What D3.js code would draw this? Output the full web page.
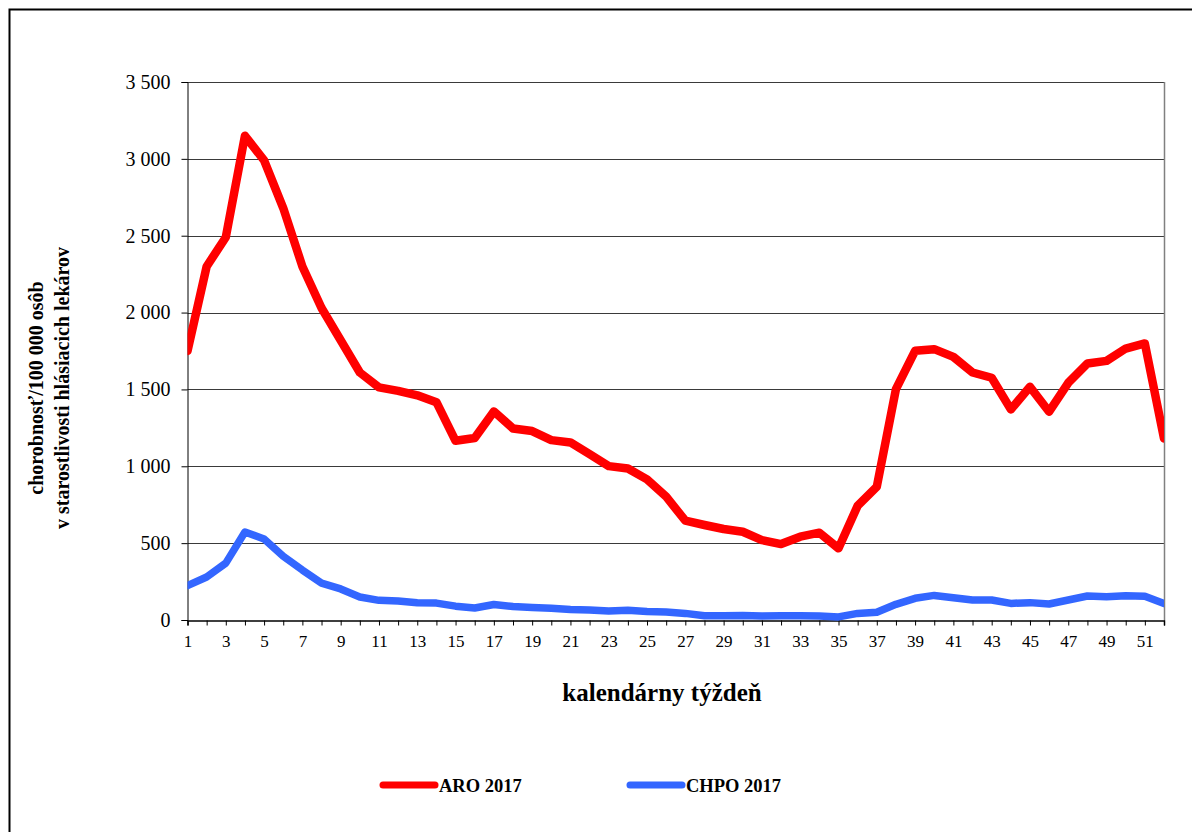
<!DOCTYPE html>
<html>
<head>
<meta charset="utf-8">
<script src="https://cdn.jsdelivr.net/npm/d3@7"></script>
<style>
  html, body { margin: 0; padding: 0; background: #fff; }
  svg { display: block; }
  svg text { font-family: "Liberation Serif", "Times New Roman", serif !important; }
</style>
</head>
<body>
<svg id="chart" width="1192" height="832"></svg>
<script>
// calendar weeks 1..52
const weeks = d3.range(1, 53);

// ARO 2017 – morbidity per 100 000 persons
const aro2017 = [
  1750, 2300, 2490, 3150, 2990, 2680, 2300, 2030, 1820, 1610,
  1513, 1491, 1462, 1417, 1166, 1184, 1357, 1246, 1229, 1170,
  1155, 1079, 1001, 986, 915, 802, 646, 618, 592, 574,
  520, 494, 542, 568, 466, 743, 867, 1502, 1751, 1762,
  1712, 1610, 1576, 1370, 1517, 1355, 1543, 1669, 1686, 1766,
  1799, 1181
];

// CHPO 2017 – morbidity per 100 000 persons
const chpo2017 = [
  224, 280, 370, 572, 527, 415, 325, 240, 202, 150,
  128, 123, 112, 110, 90, 78, 101, 88, 82, 76,
  69, 65, 58, 63, 56, 52, 43, 28, 28, 30,
  26, 28, 28, 26, 20, 43, 50, 102, 141, 160,
  145, 130, 130, 108, 113, 104, 130, 156, 152, 158,
  154, 108
];

const yTicks = [0, 500, 1000, 1500, 2000, 2500, 3000, 3500];

const seriesNames = ["ARO 2017", "CHPO 2017"];
const seriesColors = ["#ff0000", "#3366ff"];

const svg = d3.select("#chart");

// outer chart frame
svg.append("rect")
  .attr("x", 9.5).attr("y", 9.5)
  .attr("width", 1250).attr("height", 900)
  .attr("fill", "none").attr("stroke", "#000").attr("stroke-width", 2);

const plot = { left: 187.5, right: 1164, top: 82, bottom: 620 };

const x = d3.scaleLinear().domain([1, 52]).range([plot.left, plot.right]);
const y = d3.scaleLinear().domain([0, 3500]).range([plot.bottom, plot.top]);

const fmt = d3.formatLocale({ decimal: ",", thousands: "\u00a0", grouping: [3], currency: ["", " €"] }).format(",d");

// horizontal gridlines
svg.append("g")
  .selectAll("line")
  .data(yTicks.filter(d => d > 0))
  .join("line")
  .attr("x1", plot.left).attr("x2", plot.right)
  .attr("y1", d => Math.round(y(d)) + 0.5).attr("y2", d => Math.round(y(d)) + 0.5)
  .attr("stroke", "#3a3a3a").attr("stroke-width", 1);

// right border of the plot area
svg.append("line")
  .attr("x1", plot.right + 0.5).attr("x2", plot.right + 0.5)
  .attr("y1", plot.top).attr("y2", plot.bottom)
  .attr("stroke", "#808080").attr("stroke-width", 1.5);

// y axis
const yAxis = svg.append("g")
  .attr("transform", `translate(${plot.left},0)`)
  .call(d3.axisLeft(y).tickValues(yTicks).tickFormat(fmt).tickSize(6).tickPadding(11));
yAxis.select(".domain").attr("stroke", "#000");
yAxis.selectAll(".tick line").attr("stroke", "#000");
yAxis.selectAll(".tick text")
  .attr("font-size", 20).attr("fill", "#000");

// x axis
const xAxis = svg.append("g")
  .attr("transform", `translate(0,${plot.bottom + 0.5})`)
  .call(d3.axisBottom(x).tickValues(weeks).tickSize(5).tickPadding(9)
    .tickFormat(d => (d % 2 === 1 ? d : "")));
xAxis.select(".domain").attr("stroke", "#000").attr("stroke-width", 1.5);
xAxis.selectAll(".tick line").attr("stroke", "#000");
xAxis.selectAll(".tick text")
  .attr("font-size", 17).attr("fill", "#000");

// clip the series to the plot rectangle
svg.append("defs").append("clipPath").attr("id", "plotClip")
  .append("rect")
  .attr("x", plot.left).attr("y", plot.top - 10)
  .attr("width", plot.right - plot.left).attr("height", plot.bottom - plot.top + 20);

const line = d3.line().x((d, i) => x(weeks[i])).y(d => y(d));

const lines = svg.append("g").attr("clip-path", "url(#plotClip)");
[aro2017, chpo2017].forEach((vals, i) => {
  lines.append("path")
    .datum(vals)
    .attr("d", line)
    .attr("fill", "none")
    .attr("stroke", seriesColors[i])
    .attr("stroke-width", i === 0 ? 8.5 : 7.5)
    .attr("stroke-linejoin", "round")
    .attr("stroke-linecap", "round");
});

// y axis title (two lines)
const yTitle = svg.append("text")
  .attr("transform", "translate(43,388) rotate(-90)")
  .attr("text-anchor", "middle")
  .attr("font-weight", "bold").attr("font-size", 20).attr("fill", "#000");
yTitle.append("tspan").attr("x", 0).attr("dy", 0).text("chorobnosť/100 000 osôb");
yTitle.append("tspan").attr("x", 0).attr("dy", 26).text("v starostlivosti hlásiacich lekárov");

// x axis title
svg.append("text")
  .attr("x", 662).attr("y", 701)
  .attr("text-anchor", "middle")
  .attr("font-weight", "bold").attr("font-size", 25).attr("fill", "#000")
  .text("kalendárny týždeň");

// legend
const legendX = [383, 630];
const legend = svg.append("g");
seriesNames.forEach((name, i) => {
  const g = legend.append("g").attr("transform", `translate(${legendX[i]},785)`);
  g.append("line")
    .attr("x1", 0).attr("x2", 52).attr("y1", 0).attr("y2", 0)
    .attr("stroke", seriesColors[i]).attr("stroke-width", 7)
    .attr("stroke-linecap", "round");
  g.append("text")
    .attr("x", 56).attr("y", 7)
    .attr("font-weight", "bold").attr("font-size", 18.5).attr("fill", "#000")
    .text(name);
});
</script>
</body>
</html>
